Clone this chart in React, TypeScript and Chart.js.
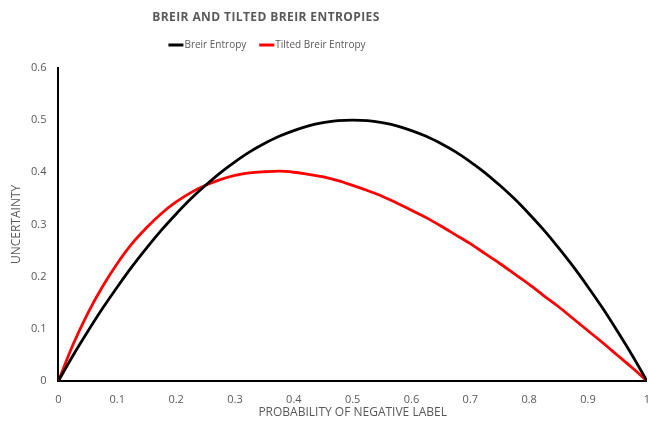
import React, { useEffect, useRef } from "react";
import { Chart, registerables } from "chart.js";

Chart.register(...registerables);

// Probability of the negative label (x) sampled every 0.025
const probabilities = [
  0, 0.025, 0.05, 0.075, 0.1, 0.125, 0.15, 0.175, 0.2, 0.225, 0.25, 0.275, 0.3, 0.325,
  0.35, 0.375, 0.4, 0.425, 0.45, 0.475, 0.5, 0.525, 0.55, 0.575, 0.6, 0.625, 0.65, 0.675,
  0.7, 0.725, 0.75, 0.775, 0.8, 0.825, 0.85, 0.875, 0.9, 0.925, 0.95, 0.975, 1,
];

const breirEntropy = [
  0, 0.049, 0.095, 0.139, 0.18, 0.219, 0.255, 0.289, 0.32, 0.349, 0.375, 0.399, 0.42, 0.439,
  0.455, 0.469, 0.48, 0.489, 0.495, 0.499, 0.5, 0.499, 0.495, 0.489, 0.48, 0.469, 0.455, 0.439,
  0.42, 0.399, 0.375, 0.349, 0.32, 0.289, 0.255, 0.219, 0.18, 0.139, 0.095, 0.049, 0,
];

const tiltedBreirEntropy = [
  0, 0.07, 0.13, 0.181, 0.225, 0.263, 0.294, 0.321, 0.343, 0.361, 0.375, 0.386, 0.394, 0.399,
  0.401, 0.402, 0.4, 0.396, 0.391, 0.384, 0.375, 0.365, 0.354, 0.341, 0.327, 0.313, 0.297, 0.28,
  0.263, 0.244, 0.225, 0.205, 0.185, 0.163, 0.142, 0.119, 0.096, 0.073, 0.049, 0.025, 0,
];

const xTicks = [0, 0.1, 0.2, 0.3, 0.4, 0.5, 0.6, 0.7, 0.8, 0.9, 1];
const xTickLabels = ["0", "0.1", "0.2", "0.3", "0.4", "0.5", "0.6", "0.7", "0.8", "0.9", "1"];
const yTicks = [0, 0.1, 0.2, 0.3, 0.4, 0.5, 0.6];
const yTickLabels = ["0", "0.1", "0.2", "0.3", "0.4", "0.5", "0.6"];

const TITLE = "BREIR AND TILTED BREIR ENTROPIES";
const X_TITLE = "PROBABILITY OF NEGATIVE LABEL";
const Y_TITLE = "UNCERTAINTY";

const TEXT_COLOR = "#595959";
const FONT = "'Open Sans', 'Liberation Sans', sans-serif";

// Draws the chart title, a compact line legend and both axis titles
const headerPlugin = {
  id: "header",
  afterDraw(chart: any) {
    const ctx: CanvasRenderingContext2D = chart.ctx;
    const area = chart.chartArea;
    ctx.save();
    ctx.fillStyle = TEXT_COLOR;
    ctx.textBaseline = "middle";
    ctx.textAlign = "center";
    ctx.font = `bold 12px ${FONT}`;
    (ctx as any).letterSpacing = "0.4px";
    ctx.fillText(TITLE, 266, 18);
    (ctx as any).letterSpacing = "0px";

    // axis titles
    ctx.font = `12px ${FONT}`;
    ctx.fillText(X_TITLE, (area.left + area.right) / 2, 413);
    ctx.save();
    ctx.translate(17, (area.top + area.bottom) / 2);
    ctx.rotate(-Math.PI / 2);
    ctx.fillText(Y_TITLE, 0, 0);
    ctx.restore();

    // legend
    ctx.font = `10px ${FONT}`;
    ctx.textAlign = "left";
    const lineLen = 15;
    const gapText = 1;
    const gapItems = 13;
    const items = chart.data.datasets.map((ds: any) => ({
      label: ds.label as string,
      color: ds.borderColor as string,
      w: lineLen + gapText + ctx.measureText(ds.label).width,
    }));
    const total = items.reduce((s: number, it: any) => s + it.w, 0) + gapItems * (items.length - 1);
    let x = 267 - total / 2;
    const y = 45;
    for (const it of items) {
      ctx.strokeStyle = it.color;
      ctx.lineWidth = 3;
      ctx.beginPath();
      ctx.moveTo(x, y);
      ctx.lineTo(x + lineLen, y);
      ctx.stroke();
      ctx.fillText(it.label, x + lineLen + gapText, y);
      x += it.w + gapItems;
    }
    ctx.restore();
  },
};

export default function App() {
  const canvasRef = useRef<HTMLCanvasElement | null>(null);

  useEffect(() => {
    const canvas = canvasRef.current;
    if (!canvas) return;
    const chart = new Chart(canvas, {
      type: "line",
      data: {
        datasets: [
          {
            label: "Breir Entropy",
            data: probabilities.map((p, i) => ({ x: p, y: breirEntropy[i] })),
            borderColor: "#000000",
            backgroundColor: "#000000",
            borderWidth: 2.8,
            pointRadius: 0,
            cubicInterpolationMode: "monotone",
            fill: false,
          },
          {
            label: "Tilted Breir Entropy",
            data: probabilities.map((p, i) => ({ x: p, y: tiltedBreirEntropy[i] })),
            borderColor: "#FF0000",
            backgroundColor: "#FF0000",
            borderWidth: 2.8,
            pointRadius: 0,
            cubicInterpolationMode: "monotone",
            fill: false,
          },
        ],
      },
      options: {
        responsive: false,
        animation: false,
        devicePixelRatio: 1,
        layout: { padding: { top: 68, left: 19, right: 0, bottom: 5 } },
        plugins: {
          legend: { display: false },
          title: { display: false },
          tooltip: { enabled: false },
        },
        scales: {
          x: {
            type: "linear",
            min: 0,
            max: 1,
            afterBuildTicks: (axis: any) => {
              axis.ticks = xTicks.map((v) => ({ value: v }));
            },
            ticks: {
              color: TEXT_COLOR,
              font: { family: FONT, size: 11 },
              padding: 12,
              maxRotation: 0,
              callback: (_v: any, i: number) => xTickLabels[i],
            },
            grid: { display: false, drawTicks: false },
            border: { display: true, color: "#000000", width: 2 },
          },
          y: {
            type: "linear",
            min: 0,
            max: 0.6,
            afterBuildTicks: (axis: any) => {
              axis.ticks = yTicks.map((v) => ({ value: v }));
            },
            ticks: {
              color: TEXT_COLOR,
              font: { family: FONT, size: 11 },
              padding: 12,
              callback: (_v: any, i: number) => yTickLabels[i],
            },
            grid: { display: false, drawTicks: false },
            border: { display: true, color: "#000000", width: 2 },
          },
        },
      },
      plugins: [headerPlugin],
    } as any);
    return () => chart.destroy();
  }, []);

  return (
    <div
      style={{
        position: "fixed",
        left: 0,
        top: 0,
        width: 648,
        height: 423,
        overflow: "hidden",
        background: "#ffffff",
      }}
    >
      <canvas ref={canvasRef} width={662} height={423} style={{ display: "block" }} />
    </div>
  );
}
